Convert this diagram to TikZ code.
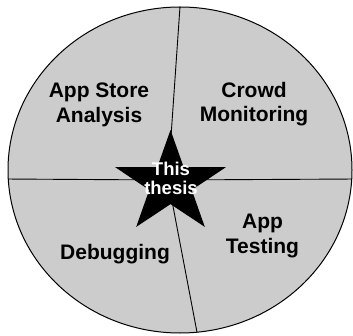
\documentclass[tikz,border=0pt]{standalone}
\usepackage{fontspec}
\setmainfont{Liberation Sans}
\usetikzlibrary{shapes.geometric}
\definecolor{piegray}{RGB}{204,204,204}
\tikzset{
  piedisc/.style = {ellipse, draw=black, line width=1pt, fill=piegray, inner sep=0pt, minimum width=344pt, minimum height=326pt},
  divider/.style = {line width=0.9pt},
  thesisstar/.style = {fill=black},
  sectorlabel/.style = {font=\fontsize{21}{24.5}\selectfont\bfseries, align=center, inner sep=0pt},
  starlabel/.style = {font=\fontsize{18.5}{18.5}\selectfont\bfseries, text=white, align=center, inner sep=0pt},
}
\begin{document}
\begin{tikzpicture}[x=1pt, y=1pt]
\useasboundingbox (0,0) rectangle (353,335);

% Disc and its four sectors
\node[piedisc] (pie) at (180,165) {};
\coordinate (hub) at (168,155);
\draw[divider] (hub) -- (pie.north);
\draw[divider] (hub) -- (pie.-84.4);
\draw[divider] (hub) -- (pie.183.3);
\draw[divider] (hub) -- (pie.-3.3);

% Star in the middle
\coordinate (starc) at (170.5,151.4);
\begin{scope}[shift={(starc)}, xscale=1.09]
  \fill[thesisstar] (90:53.6)
    \foreach \k in {1,...,9} { -- ({90+36*\k}:{mod(\k,2)==0 ? 53.6 : 20.5}) } -- cycle;
\end{scope}
\node[starlabel] (thesis) at (171,156.5) {This\\thesis};

% Sector labels
\node[sectorlabel] (store) at (99,230.4) {App Store\\Analysis};
\node[sectorlabel] (crowd) at (254,231) {Crowd\\Monitoring};
\node[sectorlabel] (debug) at (115,81) {Debugging};
\node[sectorlabel] (testing) at (262.5,99) {App\\Testing};

\end{tikzpicture}
\end{document}
